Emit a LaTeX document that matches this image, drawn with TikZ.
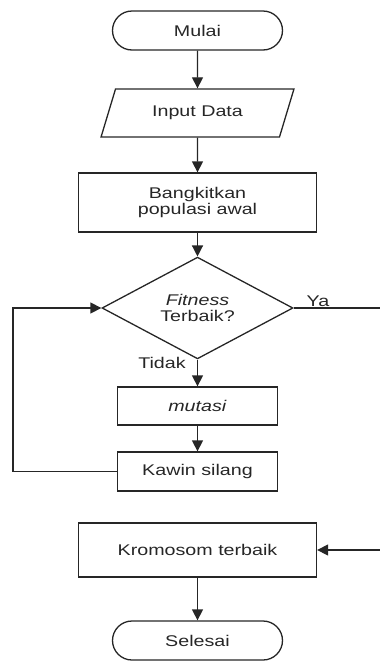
\documentclass[tikz,border=0pt]{standalone}
\usepackage{fontspec}
\setmainfont[FakeStretch=1.27]{Liberation Sans}
\usetikzlibrary{shapes.geometric,arrows.meta}
\begin{document}
\begin{tikzpicture}[x=1pt,y=-1pt,
  every node/.style={font=\fontsize{15.5}{16}\selectfont, text=black!85, inner sep=0pt, align=center},
  ln/.style={draw=black!85, line width=1.3pt},
  box/.style={ln, rectangle, minimum height=#1},
  term/.style={ln, rectangle, rounded corners=19.5pt, minimum width=170pt, minimum height=39pt},
  io/.style={ln, trapezium, trapezium left angle=60, trapezium right angle=120, trapezium stretches=true, minimum width=193pt, minimum height=48pt},
  dec/.style={ln, diamond, minimum width=191pt, minimum height=84pt},
  arr/.style={ln, -{Triangle[length=11pt,width=11pt]}},
  con/.style={ln}
]
\useasboundingbox (0,0) rectangle (380,662);
\node[term] (mulai) at (197.5,30.5) {Mulai};
\node[io] (input) at (197.5,113) {Input Data};
\node[box=59pt, minimum width=238pt] (bangkit) at (197.5,202.5) {Bangkitkan\\populasi awal};
\node[dec] (fit) at (197.5,308) {\textit{Fitness}\\Terbaik?};
\node[box=38pt, minimum width=160pt] (mutasi) at (197.5,406) {\textit{mutasi}};
\node[box=39pt, minimum width=160pt] (kawin) at (197.5,471.5) {Kawin silang};
\node[box=54pt, minimum width=238pt] (krom) at (197.5,550) {Kromosom terbaik};
\node[term] (selesai) at (197.5,640.5) {Selesai};

\coordinate (yaend) at (380,308);
\coordinate (kromin) at (380,550);
\coordinate (loopa) at (13,471.5);
\coordinate (loopb) at (13,308);

\draw[arr] (mulai) -- (input);
\draw[arr] (input) -- (bangkit);
\draw[arr] (bangkit) -- (fit);
\draw[arr] (fit) -- (mutasi);
\draw[arr] (mutasi) -- (kawin);
\draw[arr] (kawin.west) -- (loopa) -- (loopb) -- (fit.west);
\draw[con] (fit.east) -- (yaend);
\draw[arr] (kromin) -- (krom.east);
\draw[arr] (krom) -- (selesai);

\node (ya) at (318,301) {Ya};
\node (tidak) at (162,363) {Tidak};
\end{tikzpicture}
\end{document}
